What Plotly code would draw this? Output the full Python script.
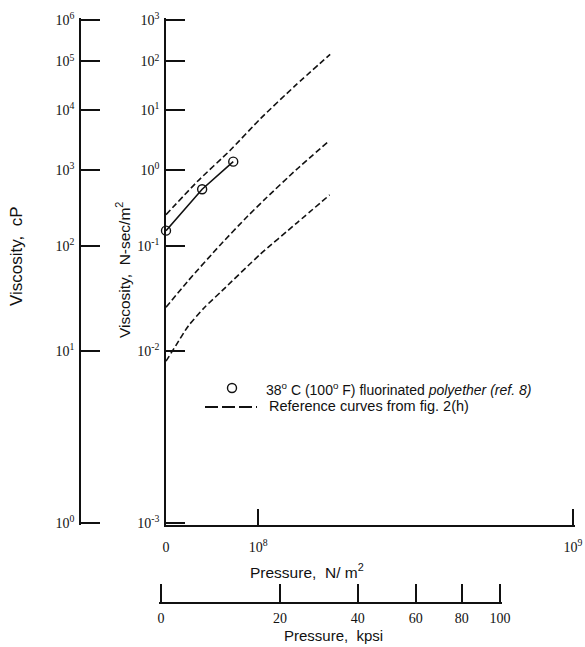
import numpy as np
import plotly.graph_objects as go

# ---- data (pressure in N/m^2, viscosity in N-sec/m^2) ----
ref_upper_p = [0.0, 0.298e8, 0.648e8, 1.035e8, 1.528e8, 2.12e8]
ref_upper_eta = [0.237, 0.675, 1.98, 7.10, 30.0, 144.5]

ref_middle_p = [0.0, 0.197e8, 0.542e8, 0.864e8, 1.108e8, 1.550e8, 2.11e8]
ref_middle_eta = [0.0233, 0.0410, 0.1025, 0.226, 0.393, 1.004, 2.92]

ref_lower_p = [0.0, 0.087e8, 0.205e8, 0.372e8, 0.558e8, 1.027e8, 1.565e8, 2.11e8]
ref_lower_eta = [0.00832, 0.01094, 0.01589, 0.02338, 0.0333, 0.0797, 0.1885, 0.433]

polyether_p = [0.0, 0.345e8, 0.689e8]
polyether_eta = [0.150, 0.52, 1.33]

pa_ticks = [0.0, 1e8, 1e9]
pa_ticktext = ["0", "10<sup>8</sup>", "10<sup>9</sup>"]
kpsi_ticks = [0, 20, 40, 60, 80, 100]
visc_exponents = [-3, -2, -1, 0, 1, 2, 3]
cp_exponents = [0, 1, 2, 3, 4, 5, 6]

PA_PER_KPSI = 6.894757e6


# ---- chart scales ----
def p_scale(p):
    return np.log10(1.0 + np.asarray(p, dtype=float) / 2e8)


def cp_scale(cp):
    return np.log10(np.log10(np.asarray(cp, dtype=float)) + 1.15)


def visc_scale(eta):
    return cp_scale(np.asarray(eta, dtype=float) * 1000.0)


W, H = 585, 647


def px(x):
    return x / W


def py(y):
    return 1 - y / H


FONT_SANS = "Liberation Sans, Arial, sans-serif"
FONT_NUM = "Liberation Serif, Times New Roman, serif"
INK = "#111111"
PAD = 2.0  # px of slack so the end ticks are not dropped

# pixel frame of the main panel (tick-to-tick)
x_left, x_right = 166, 573
y_top, y_bot = 20, 523

x_lo, x_hi = 0.0, float(p_scale(1e9))
x_upp = (x_hi - x_lo) / (x_right - x_left)          # data units per px
v_lo, v_hi = float(visc_scale(1e-3)), float(visc_scale(1e3))
v_upp = (v_hi - v_lo) / (y_bot - y_top)
c_lo, c_hi = float(cp_scale(1.0)), float(cp_scale(1e6))
c_upp = (c_hi - c_lo) / (y_bot - y_top)

kpsi_x0 = 161
kpsi_hi = float(p_scale(100 * PA_PER_KPSI))
kpsi_x1 = kpsi_x0 + kpsi_hi / x_upp

fig = go.Figure()

dash = "6px,3px"
for pp, ee in [(ref_upper_p, ref_upper_eta),
               (ref_middle_p, ref_middle_eta),
               (ref_lower_p, ref_lower_eta)]:
    fig.add_trace(go.Scatter(
        x=p_scale(pp), y=visc_scale(ee), mode="lines",
        line=dict(color=INK, width=1.6, dash=dash, shape="spline", smoothing=0.6),
        showlegend=False, hoverinfo="skip"))

fig.add_trace(go.Scatter(
    x=p_scale(polyether_p), y=visc_scale(polyether_eta), mode="lines+markers",
    line=dict(color=INK, width=1.6),
    marker=dict(symbol="circle-open", size=9, color=INK, line=dict(width=1.4)),
    showlegend=False, hoverinfo="skip", cliponaxis=False))

# carriers for the cP axis and the kpsi axis
fig.add_trace(go.Scatter(x=[None], y=[None], yaxis="y2", mode="lines",
                         showlegend=False, hoverinfo="skip"))
fig.add_trace(go.Scatter(x=[None], y=[None], xaxis="x2", mode="lines",
                         showlegend=False, hoverinfo="skip"))

axis_common = dict(showgrid=False, zeroline=False, showline=True,
                   linecolor=INK, linewidth=1.5, ticks="inside",
                   tickcolor=INK, tickwidth=1.5, automargin=False,
                   tickfont=dict(family=FONT_NUM, size=14, color=INK))

y_domain = [py(y_bot + PAD), py(y_top - PAD)]

fig.update_layout(
    template="none",
    width=W, height=H, autosize=False,
    margin=dict(l=0, r=0, t=0, b=0, pad=0),
    paper_bgcolor="white", plot_bgcolor="rgba(0,0,0,0)",
    showlegend=False,
    xaxis=dict(domain=[px(x_left), px(x_right + PAD)],
               range=[x_lo, x_hi + PAD * x_upp],
               tickvals=p_scale(pa_ticks), ticktext=pa_ticktext,
               ticklen=16, anchor="y", ticklabelstandoff=8, **axis_common),
    yaxis=dict(domain=y_domain, range=[v_lo - PAD * v_upp, v_hi + PAD * v_upp],
               tickvals=visc_scale([10.0 ** k for k in visc_exponents]),
               ticktext=[f"10<sup>{k}</sup>" for k in visc_exponents],
               ticklen=19, anchor="x", ticklabelstandoff=2, **axis_common),
    yaxis2=dict(domain=y_domain, overlaying="y", anchor="free",
                position=px(80), side="left",
                range=[c_lo - PAD * c_upp, c_hi + PAD * c_upp],
                tickvals=cp_scale([10.0 ** k for k in cp_exponents]),
                ticktext=[f"10<sup>{k}</sup>" for k in cp_exponents],
                ticklen=19, ticklabelstandoff=2, **axis_common),
    xaxis2=dict(domain=[px(kpsi_x0 - PAD), px(kpsi_x1 + PAD)], anchor="free",
                position=py(603),
                range=[-PAD * x_upp, kpsi_hi + PAD * x_upp],
                tickvals=p_scale([k * PA_PER_KPSI for k in kpsi_ticks]),
                ticktext=[str(k) for k in kpsi_ticks],
                ticklen=18, ticklabelstandoff=2, **axis_common),
)

ann = []
ann.append(dict(x=px(123), y=py(270), text="Viscosity,  N-sec/m<sup>2</sup>",
                textangle=-90, font=dict(family=FONT_SANS, size=15.5, color=INK)))
ann.append(dict(x=px(16), y=py(256), text="Viscosity,  cP",
                textangle=-90, font=dict(family=FONT_SANS, size=17, color=INK)))
ann.append(dict(x=px(307), y=py(571), text="Pressure,  N/ m<sup>2</sup>",
                font=dict(family=FONT_SANS, size=15.5, color=INK)))
ann.append(dict(x=px(333), y=py(635), text="Pressure,  kpsi",
                font=dict(family=FONT_SANS, size=15, color=INK)))
ann.append(dict(x=px(264), y=py(389), xanchor="left",
                text="38<sup>o</sup> C (100<sup>o</sup> F) fluorinated <i>polyether (ref. 8)</i>",
                font=dict(family=FONT_SANS, size=14, color=INK)))
ann.append(dict(x=px(267), y=py(406), xanchor="left",
                text="Reference curves from fig. 2(h)",
                font=dict(family=FONT_SANS, size=14.5, color=INK)))
for a in ann:
    a.setdefault("xanchor", "center")
    a.update(xref="paper", yref="paper", showarrow=False, yanchor="middle")
fig.update_layout(annotations=ann)

# legend glyphs
r = 4.5
fig.add_shape(type="circle", xref="paper", yref="paper",
              x0=px(232 - r), x1=px(232 + r), y0=py(388 + r), y1=py(388 - r),
              line=dict(color=INK, width=1.4), fillcolor="white")
fig.add_shape(type="line", xref="paper", yref="paper",
              x0=px(205), x1=px(257), y0=py(407), y1=py(407),
              line=dict(color=INK, width=2, dash="13px,4px"))

fig.write_html("out.html")
